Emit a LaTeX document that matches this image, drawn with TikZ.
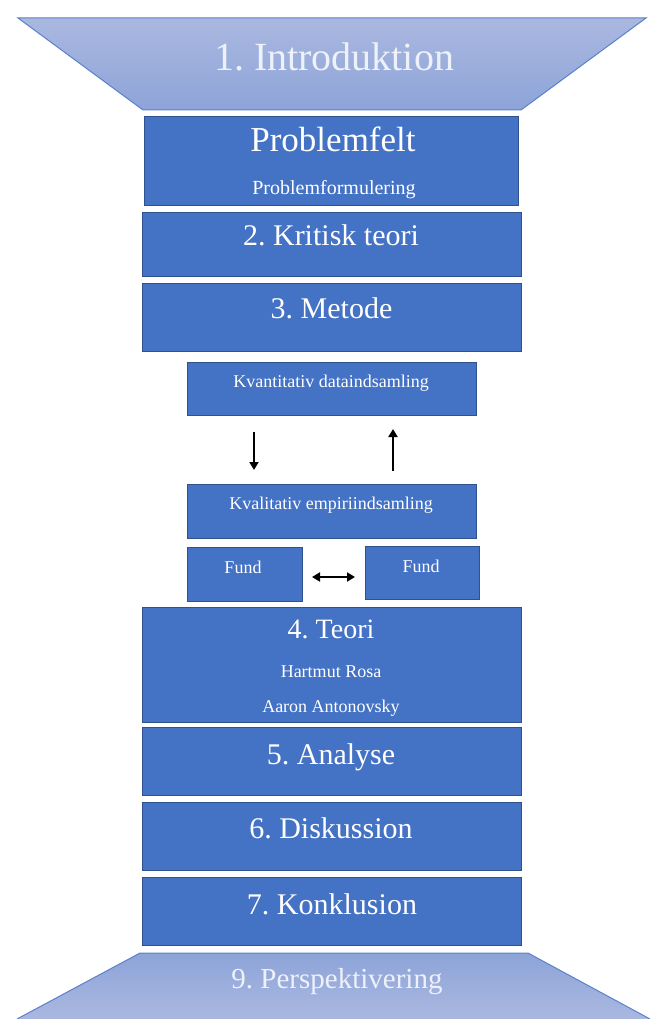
\documentclass[tikz,border=0pt]{standalone}
\usepackage{fontspec}
\setmainfont{Liberation Serif}
\usetikzlibrary{arrows.meta}
\definecolor{boxblue}{HTML}{4472C4}
\definecolor{boxedge}{HTML}{2F528F}
\definecolor{trapLight}{HTML}{AAB8E0}
\definecolor{trapDark}{HTML}{8DA4D8}
\definecolor{trapEdge}{HTML}{5B80CD}
\definecolor{trapText}{HTML}{EEF1F9}
\frenchspacing
\begin{document}
\begin{tikzpicture}[x=1pt,y=-1pt,
  blk/.style={draw=boxedge, line width=0.9pt, fill=boxblue, inner sep=0pt, outer sep=0pt},
  lbl/.style={text=white, anchor=base, inner sep=0pt},
  big/.style={lbl, font=\fontsize{30}{36}\selectfont},
  small/.style={lbl, font=\fontsize{18}{22}\selectfont},
  arr/.style={line width=1.9pt, -{Triangle[length=8pt,width=9pt]}},
  darr/.style={line width=1.9pt, {Triangle[length=8pt,width=9pt]}-{Triangle[length=8pt,width=9pt]}},
  trapline/.style={draw=trapEdge, line width=1pt}]
\useasboundingbox (0,0) rectangle (653,1019);
\fill[white] (0,0) rectangle (653,1019);
% top trapezoid
\shade[top color=trapLight, bottom color=trapDark] (18,18) -- (646,18) -- (521,110) -- (143,110) -- cycle;
\draw[trapline] (18,18) -- (646,18) -- (521,110) -- (143,110) -- cycle;
\node[lbl, text=trapText, font=\fontsize{40}{48}\selectfont] (intro) at (334,71) {1. Introduktion};
% bottom trapezoid
\begin{scope}
\clip (0,0) rectangle (653,1019);
\shade[top color=trapDark, bottom color=trapLight] (17,1019) -- (140,953) -- (528,953) -- (650,1019) -- cycle;
\draw[trapline] (17,1019) -- (140,953) -- (528,953) -- (650,1019);
\end{scope}
\node[lbl, text=trapText, font=\fontsize{29}{35}\selectfont] (persp) at (337,988) {9. Perspektivering};
% boxes
\node[blk, minimum width=374pt, minimum height=89pt] (pf) at (331,160.5) {};
\node[blk, minimum width=379pt, minimum height=64pt] (kt) at (331.5,244) {};
\node[blk, minimum width=379pt, minimum height=68pt] (me) at (331.5,317) {};
\node[blk, minimum width=289pt, minimum height=53pt] (kvant) at (331.5,388.5) {};
\node[blk, minimum width=289pt, minimum height=54pt] (kval) at (331.5,511) {};
\node[blk, minimum width=115pt, minimum height=54pt] (fundL) at (244.5,574) {};
\node[blk, minimum width=114pt, minimum height=53pt] (fundR) at (422,572.5) {};
\node[blk, minimum width=379pt, minimum height=115pt] (teori) at (331.5,664.5) {};
\node[blk, minimum width=379pt, minimum height=68pt] (an) at (331.5,761) {};
\node[blk, minimum width=379pt, minimum height=68pt] (di) at (331.5,836) {};
\node[blk, minimum width=379pt, minimum height=68pt] (ko) at (331.5,911) {};
% texts
\node[lbl, font=\fontsize{35}{42}\selectfont] (pfT) at (333,152) {Problemfelt};
\node[lbl, font=\fontsize{20}{24}\selectfont] (pfS) at (334,194) {Problemformulering};
\node[big] (ktT) at (331,245) {2. Kritisk teori};
\node[big] (meT) at (331.5,318) {3. Metode};
\node[small] (kvantT) at (331,387) {Kvantitativ dataindsamling};
\node[small] (kvalT) at (331,509) {Kvalitativ empiriindsamling};
\node[small] (fundLT) at (243,573) {Fund};
\node[small] (fundRT) at (421,572) {Fund};
\node[lbl, font=\fontsize{28}{34}\selectfont] (teoriT) at (331,638) {4. Teori};
\node[small] (rosa) at (331,677) {Hartmut Rosa};
\node[small] (anto) at (331,712) {Aaron Antonovsky};
\node[big] (anT) at (331,764) {5. Analyse};
\node[big] (diT) at (331,838) {6. Diskussion};
\node[big] (koT) at (332,914) {7. Konklusion};
% arrows
\coordinate (d1) at (254,432);
\coordinate (d2) at (254,470);
\coordinate (u1) at (393,471);
\coordinate (u2) at (393,429);
\coordinate (h1) at (312,577);
\coordinate (h2) at (355,577);
\draw[arr] (d1) -- (d2);
\draw[arr] (u1) -- (u2);
\draw[darr] (h1) -- (h2);
\end{tikzpicture}
\end{document}
